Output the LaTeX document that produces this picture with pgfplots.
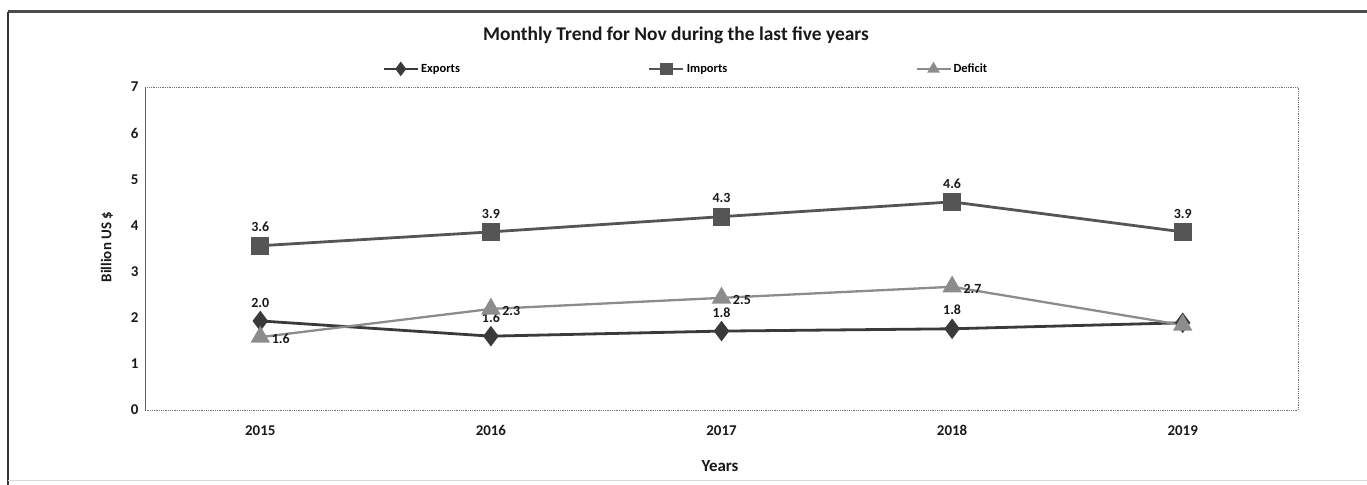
\documentclass[border=0pt]{standalone}
\usepackage{fontspec}
\setmainfont{Carlito}
\usepackage{pgfplots}
\pgfplotsset{compat=1.18}
\definecolor{expc}{HTML}{3A3A3A}
\definecolor{impc}{HTML}{555555}
\definecolor{defc}{HTML}{8C8C8C}
\begin{document}
\begin{tikzpicture}[x=1bp,y=1bp]
\path[use as bounding box] (0,0) rectangle (1367,485);
\draw[line width=3bp, black!70] (8,473) -- (1367,473);
\draw[line width=2.5bp, black!80] (8,473) -- (8,0);
\draw[line width=1bp, black!15] (8,4) -- (1367,4);
\begin{axis}[
  at={(145bp,75bp)}, anchor=south west,
  scale only axis, width=1153bp, height=323bp,
  xmin=-0.5, xmax=4.5, ymin=0, ymax=7,
  xtick={0,1,2,3,4}, xticklabels={2015,2016,2017,2018,2019},
  ytick={0,1,2,3,4,5,6,7},
  axis line style={densely dotted, black!55, line width=0.8bp},
  tick style={draw=none},
  /pgf/number format/assume math mode=true,
  ticklabel style={font=\fontsize{15}{17}\selectfont\bfseries, text=black!90},
  xticklabel style={yshift=-12bp},
  yticklabel style={xshift=-3bp},
  clip=false,
  legend style={at={(0.469,1.056)}, anchor=center, draw=none, fill=none,
    legend columns=3, font=\fontsize{12.5}{14}\selectfont\bfseries,
    /tikz/every even column/.append style={column sep=186bp}},
  legend image code/.code={\draw[mark repeat=2,mark phase=2,mark size=5bp] plot coordinates {(0bp,0bp) (17bp,0bp) (34bp,0bp)};},
  nodes near coords,
  point meta=explicit symbolic,
  every node near coord/.append style={font=\fontsize{14}{16}\selectfont\bfseries, text=black!90},
]
\draw[black!60, line width=1bp] (rel axis cs:0,0) -- (rel axis cs:0,1);
\addplot[color=expc, line width=2.8bp, mark=diamond*, mark size=8bp,
  mark options={fill=expc, solid},
  nodes near coords style={anchor=south, yshift=9bp}]
  coordinates {(0,1.93) [2.0] (1,1.60) [1.6] (2,1.71) [1.8] (3,1.76) [1.8] (4,1.89) [{}]};
\addlegendentry{Exports}
\addplot[color=impc, line width=2.8bp, mark=square*, mark size=7.5bp,
  mark options={fill=impc, solid},
  nodes near coords style={anchor=south, yshift=9bp}]
  coordinates {(0,3.56) [3.6] (1,3.86) [3.9] (2,4.19) [4.3] (3,4.51) [4.6] (4,3.86) [3.9]};
\addlegendentry{Imports}
\addplot[color=defc, line width=2.3bp, mark=triangle*, mark size=9bp,
  mark options={fill=defc, solid},
  nodes near coords style={anchor=west, xshift=7bp, yshift=-2bp}]
  coordinates {(0,1.58) [1.6] (1,2.19) [2.3] (2,2.43) [2.5] (3,2.67) [2.7] (4,1.84) [{}]};
\addlegendentry{Deficit}
\end{axis}
\node[font=\fontsize{19.5}{22}\selectfont\bfseries, text=black!90] at (676,450) {Monthly Trend for Nov during the last five years};
\node[font=\fontsize{15}{17}\selectfont\bfseries, text=black!90, rotate=90] at (107,238) {Billion US \$};
\node[font=\fontsize{17}{19}\selectfont\bfseries, text=black!90] at (720,19) {Years};
\end{tikzpicture}
\end{document}
